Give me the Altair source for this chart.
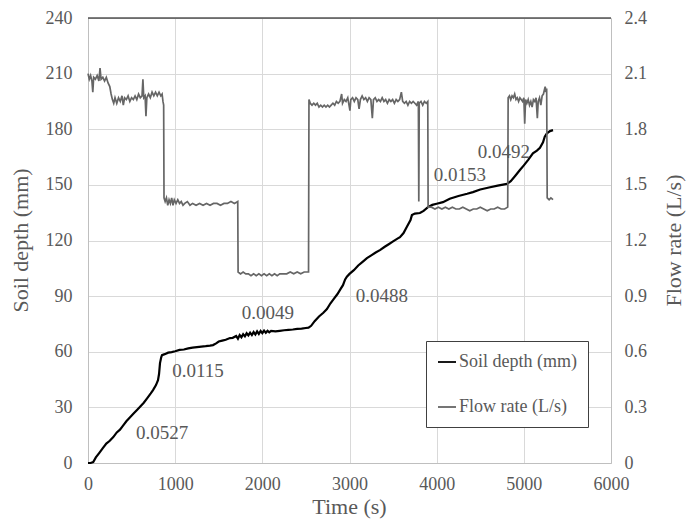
import altair as alt
import pandas as pd

# ---- data ----
flow_t = [0,15,30,45,55,65,85,105,125,138,150,170,190,210,230,250,265,280,295,310,330,350,370,390,405,420,440,460,480,500,520,540,560,580,600,620,630,640,655,665,675,695,715,735,755,775,795,815,835,850,860,868,
          872,885,900,915,930,945,960,975,990,1010,1030,1050,1070,1090,1110,1140,1170,1200,1240,1280,1320,1360,1400,1440,1480,1520,1560,1600,1640,1680,1718,
          1722,1750,1780,1810,1840,1870,1900,1930,1960,1990,2020,2050,2080,2110,2140,2170,2200,2240,2280,2320,2360,2400,2440,2480,2530,
          2535,2550,2570,2590,2610,2630,2650,2670,2690,2710,2730,2750,2770,2790,2810,2830,2850,2870,2890,2910,2920,2940,2960,2980,3005,3015,3035,3055,3075,3095,3110,3125,3145,3165,3185,3205,3225,3245,3262,3275,3295,3315,3335,3355,3375,3395,3415,3435,3455,3475,3495,3515,3535,3555,3575,3595,3610,3630,3650,3670,3690,3710,3730,3750,3770,3790,3795,3800,3820,3840,3860,3880,3898,
          3902,3940,3980,4020,4060,4100,4140,4180,4220,4260,4300,4340,4380,4420,4460,4500,4540,4580,4620,4660,4700,4740,4780,4815,
          4820,4835,4850,4865,4880,4895,4910,4925,4940,4955,4970,4985,5000,5010,5020,5035,5050,5065,5080,5095,5110,5125,5140,5155,5165,5180,5195,5210,5225,5235,5245,5255,5262,
          5268,5290,5310,5335]
flow_v = [2.10,2.07,2.09,2.06,2.00,2.08,2.07,2.09,2.06,2.13,2.07,2.08,2.06,2.08,2.05,2.03,1.99,1.96,1.94,1.97,1.94,1.97,1.95,1.98,1.93,1.97,1.96,1.98,1.95,1.97,1.96,1.98,1.96,1.99,1.97,1.98,2.07,1.97,1.98,1.87,1.97,1.99,1.97,2.00,1.98,2.00,1.98,2.00,1.98,1.99,1.95,1.93,
          1.43,1.41,1.43,1.39,1.42,1.40,1.43,1.39,1.42,1.40,1.42,1.40,1.41,1.39,1.40,1.41,1.39,1.40,1.39,1.40,1.39,1.40,1.39,1.40,1.40,1.39,1.40,1.40,1.41,1.40,1.41,
          1.03,1.02,1.03,1.02,1.02,1.01,1.02,1.01,1.02,1.01,1.02,1.01,1.02,1.01,1.02,1.01,1.02,1.02,1.02,1.03,1.02,1.03,1.02,1.03,1.03,
          1.96,1.94,1.93,1.94,1.93,1.94,1.92,1.93,1.92,1.93,1.92,1.93,1.92,1.93,1.94,1.93,1.95,1.94,1.95,1.99,1.94,1.96,1.95,1.97,1.90,1.96,1.97,1.95,1.97,1.96,1.91,1.96,1.98,1.96,1.97,1.95,1.97,1.96,1.86,1.96,1.97,1.95,1.96,1.95,1.97,1.95,1.96,1.94,1.96,1.95,1.96,1.94,1.96,1.95,1.96,2.00,1.95,1.94,1.95,1.93,1.95,1.94,1.95,1.94,1.93,1.95,1.41,1.94,1.95,1.93,1.95,1.94,1.95,
          1.38,1.38,1.37,1.38,1.37,1.38,1.37,1.38,1.37,1.37,1.38,1.37,1.36,1.37,1.37,1.38,1.37,1.36,1.37,1.37,1.38,1.37,1.37,1.38,
          1.97,1.98,1.96,1.98,1.97,1.99,1.96,1.97,1.95,1.97,1.96,1.95,1.97,1.83,1.96,1.94,1.96,1.93,1.95,1.92,1.96,1.95,1.97,1.86,1.95,1.97,1.93,1.98,1.99,2.01,2.03,2.00,2.02,
          1.43,1.42,1.43,1.42]

soil_t = [0,30,60,90,130,170,210,250,290,330,367,400,440,480,520,562,600,640,680,720,746,780,803,815,826,840,849,880,920,960,1000,1050,1100,1150,1200,1250,1300,1350,1400,1434,1470,1500,1540,1580,1629,1660,1700,1720,1740,1760,1780,1800,1820,1840,1860,1880,1900,1920,1940,1960,1980,2000,2020,2040,2060,2080,2100,2150,2200,2250,2300,2350,2400,2450,2500,2530,2560,2600,2650,2700,2741,2780,2820,2860,2900,2925,2950,2970,3000,3050,3100,3150,3200,3250,3300,3349,3400,3450,3500,3550,3579,3620,3660,3700,3716,3750,3808,3850,3900,3950,4000,4072,4150,4250,4350,4416,4500,4600,4700,4806,4850,4900,4955,5000,5050,5104,5150,5185,5220,5240,5265,5300,5335]
soil_v = [0,0,0.5,3,5.5,8,10.5,12,14,16.5,18,20,22.5,24.5,26.5,28.6,30.5,32.5,35,37.5,39.3,42,44.7,48,53.9,57,58.2,58.7,59.5,59.8,60.3,61,61.2,61.8,62.2,62.5,62.8,63,63.3,63.6,64.5,65.5,66,66.5,67.4,67.5,68.5,67,69,67.8,69.5,68.3,70,68.8,70.3,69,70.6,69.3,71,69.6,71.2,70,71.4,70.2,71.3,70.5,71.2,71,71.3,71.6,71.8,72,72.3,72.5,72.8,73,74,76.5,79,81,83,86,88.5,91,94,95.9,99,100.5,102,104,106.5,108.5,110.5,112,113.5,114.8,116.5,118,119.5,121,121.8,124,127.5,131,133.7,134.5,134.8,136,138,139.2,139.8,140.7,142.5,144,145.2,146.1,147.5,148.6,149.6,150.5,152,154.8,158,160.5,163.5,167,168.5,170,173,176,177.8,179,179.5]

note_text = ["0.0527", "0.0115", "0.0049", "0.0488", "0.0153", "0.0492"]
note_t = [850, 1262, 2065, 3372, 4267, 4772]
note_depth = [16.2, 49.6, 80.8, 90.0, 155.2, 167.6]

series_names = ["Soil depth (mm)", "Flow rate (L/s)"]
series_colors = ["#000000", "#666666"]

x_ticks = [0, 1000, 2000, 3000, 4000, 5000, 6000]
left_ticks = [0, 30, 60, 90, 120, 150, 180, 210, 240]
right_ticks = [0, 0.3, 0.6, 0.9, 1.2, 1.5, 1.8, 2.1, 2.4]

FONT = "Liberation Serif, Times New Roman, serif"
GREY = "#595959"

flow_df = pd.DataFrame({"t": flow_t, "v": flow_v, "series": series_names[1]})
soil_df = pd.DataFrame({"t": soil_t, "v": soil_v, "series": series_names[0]})
note_df = pd.DataFrame({"t": note_t, "v": note_depth, "label": note_text})

xscale = alt.Scale(domain=[0, 6000], nice=False)
xaxis = alt.Axis(values=x_ticks, format="d", title="Time (s)", grid=True, gridColor="#d9d9d9",
                 domainColor="#bfbfbf", ticks=False, labelPadding=12, labelFlush=False,
                 titleX=261, titleY=50, titleBaseline="alphabetic", titleAlign="center",
                 labelFont=FONT, labelFontSize=18, labelColor=GREY,
                 titleFont=FONT, titleFontSize=22, titleFontWeight="normal", titleColor=GREY)

color = alt.Color("series:N",
                  scale=alt.Scale(domain=series_names, range=series_colors),
                  legend=alt.Legend(title=None, orient="none", legendX=338, legendY=323,
                                    symbolType="stroke", symbolSize=324, symbolStrokeWidth=1.8,
                                    labelFont=FONT, labelFontSize=18, labelColor=GREY,
                                    labelOffset=2, rowPadding=26, padding=11,
                                    strokeColor="#404040", fillColor="white"))

flow = alt.Chart(flow_df).mark_line(strokeWidth=1.7).encode(
    x=alt.X("t:Q", scale=xscale, axis=xaxis),
    y=alt.Y("v:Q", scale=alt.Scale(domain=[0, 2.4], nice=False),
            axis=alt.Axis(orient="right", values=right_ticks, format="~g", title="Flow rate (L/s)",
                          grid=False, domainColor="#bfbfbf", ticks=False, labelPadding=13, labelFlush=False,
                          titleX=62, titleY=222, titleAngle=270, titleBaseline="middle", titleAlign="center",
                          labelFont=FONT, labelFontSize=18, labelColor=GREY,
                          titleFont=FONT, titleFontSize=22, titleFontWeight="normal", titleColor=GREY)),
    color=color,
)

soil = alt.Chart(soil_df).mark_line(strokeWidth=2.2).encode(
    x=alt.X("t:Q", scale=xscale, axis=xaxis),
    y=alt.Y("v:Q", scale=alt.Scale(domain=[0, 240], nice=False),
            axis=alt.Axis(orient="left", values=left_ticks, title="Soil depth (mm)",
                          grid=True, gridColor="#d9d9d9", domainColor="#bfbfbf", ticks=False,
                          labelPadding=16, labelFlush=False,
                          titleX=-68, titleY=222, titleAngle=270, titleBaseline="middle", titleAlign="center",
                          labelFont=FONT, labelFontSize=18, labelColor=GREY,
                          titleFont=FONT, titleFontSize=22, titleFontWeight="normal", titleColor=GREY)),
    color=color,
)

notes = alt.Chart(note_df).mark_text(font=FONT, fontSize=19, color=GREY).encode(
    x=alt.X("t:Q", scale=xscale),
    y=alt.Y("v:Q", scale=alt.Scale(domain=[0, 240], nice=False), axis=None),
    text="label:N",
)

top = alt.Chart(pd.DataFrame({"a": [0]})).mark_rule(color="#000000", strokeWidth=1.2).encode(
    x=alt.value(0), x2=alt.value(523), y=alt.value(0)
)

chart = alt.layer(soil, flow, notes, top).resolve_scale(y="independent").properties(
    width=523, height=445,
    autosize=alt.AutoSizeParams(type="none"),
    padding={"left": 80, "top": 10, "right": 76, "bottom": 56},
).configure_view(stroke=None)

chart.save("out.html", embed_options={"renderer": "svg", "actions": False})
